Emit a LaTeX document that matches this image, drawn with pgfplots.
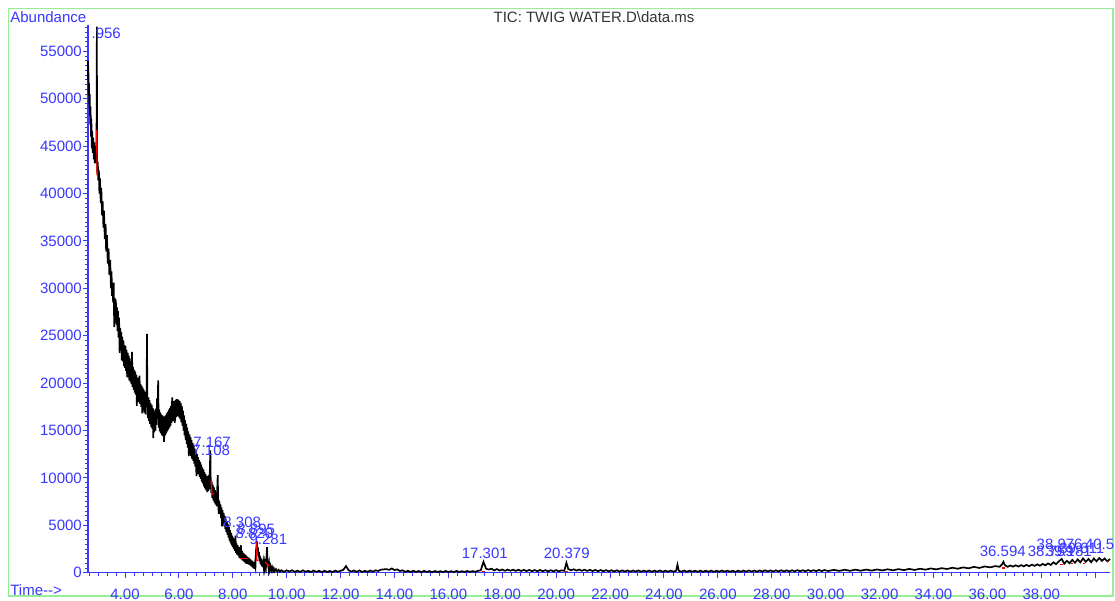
\documentclass[border=0pt]{standalone}
\usepackage{fontspec}
\setmainfont{Liberation Sans}
\usepackage{pgfplots}
\pgfplotsset{compat=1.18}
\definecolor{axblue}{RGB}{55,55,255}
\definecolor{framegreen}{RGB}{150,238,150}
\newcommand\lbl{\fontsize{9}{10}\selectfont}
\begin{document}
\begin{tikzpicture}
\begin{scope}[x=0.6pt,y=-0.6pt]
\draw[framegreen, line width=0.8pt] (8.5,8.5) rectangle (1113,596);
\node[anchor=west, text=axblue, font=\lbl, inner sep=0pt] at (10,17) {Abundance};
\node[anchor=west, text=axblue, font=\lbl, inner sep=0pt] at (10,590) {Time-{}-{}>};
\node[text=black!80, font=\lbl, inner sep=0pt] at (594,17) {TIC: TWIG WATER.D\textbackslash data.ms};
\end{scope}
\begin{axis}[
    at={(52.8pt,-343.62pt)}, anchor=south west,
    width=613.2pt, height=328.6pt, scale only axis,
    xmin=2.627, xmax=40.55, ymin=0, ymax=57780,
    axis lines=left,
    axis line style={axblue, line width=0.7pt, -},
    tick align=outside,
    major tick length=3pt, minor tick length=1.8pt,
    major tick style={axblue, line width=0.6pt},
    minor tick style={axblue, line width=0.5pt},
    xtick={2,4,...,40},
    xticklabels={,4.00,6.00,8.00,10.00,12.00,14.00,16.00,18.00,20.00,22.00,24.00,26.00,28.00,30.00,32.00,34.00,36.00,38.00,},
    minor x tick num=5,
    ytick={0,5000,...,60000},
    minor y tick num=9,
    scaled y ticks=false,
    ticklabel style={text=axblue, font=\lbl},
    xticklabel style={yshift=-3.5pt},
    yticklabel style={inner xsep=0.5pt},
    /pgf/number format/assume math mode=true,
    /pgf/number format/1000 sep={},
    clip=false,
]
% TIC trace
\addplot[black, line width=1pt] coordinates {
(2.627,54000)(2.63,52000)(2.64,53400)(2.65,50300)(2.66,51700)(2.68,49000)(2.69,50500)
(2.71,47300)(2.72,49200)(2.74,46000)(2.75,47900)(2.77,44800)(2.78,46600)(2.80,44300)
(2.82,45900)(2.84,43600)(2.86,45400)(2.88,43200)(2.90,45000)(2.92,43200)(2.94,44400)
(2.95,50000)(2.956,57600)(2.96,46500)(2.97,42200)(2.99,43300)(3.01,41400)(3.03,42500)
(3.05,40000)(3.07,41600)(3.10,39000)(3.12,40600)(3.15,37700)(3.17,39200)(3.20,36400)
(3.22,38200)(3.25,35200)(3.28,36800)(3.30,33900)(3.33,35600)(3.36,32600)(3.39,34200)
(3.42,31400)(3.45,33000)(3.48,30000)(3.50,31800)(3.52,29200)(3.54,30400)(3.56,28500)
(3.58,30600)(3.60,25900)(3.62,29000)(3.64,26800)(3.66,28800)(3.68,26200)(3.70,28000)
(3.72,25500)(3.74,27600)(3.76,24800)(3.78,26900)(3.80,23200)(3.82,25800)(3.84,23500)
(3.86,25400)(3.88,22400)(3.90,24900)(3.92,22300)(3.94,24500)(3.96,21800)(3.98,24000)
(4.00,21600)(4.02,23900)(4.04,21300)(4.06,23500)(4.08,20600)(4.10,23200)(4.12,20700)
(4.14,22900)(4.16,20300)(4.18,22600)(4.20,20100)(4.22,22300)(4.24,19900)(4.26,23300)
(4.28,19600)(4.30,21700)(4.32,19300)(4.34,21400)(4.36,19000)(4.38,21200)(4.40,18800)
(4.42,20900)(4.44,17600)(4.46,20600)(4.48,18200)(4.50,20400)(4.52,18000)(4.54,20800)
(4.56,17800)(4.58,19900)(4.60,17500)(4.62,19700)(4.64,16800)(4.66,19500)(4.68,17100)
(4.70,19300)(4.72,16900)(4.74,19100)(4.76,16700)(4.78,18900)(4.80,17500)(4.815,25200)
(4.83,18200)(4.85,16300)(4.87,18500)(4.89,16000)(4.91,18200)(4.93,15700)(4.95,17900)
(4.97,15400)(4.99,17700)(5.01,15200)(5.03,17400)(5.05,14200)(5.07,17200)(5.09,14800)
(5.11,17000)(5.13,15000)(5.15,17300)(5.17,15600)(5.19,18400)(5.21,16200)(5.23,20300)
(5.25,15300)(5.27,17200)(5.29,14900)(5.31,16900)(5.33,14700)(5.35,16700)(5.37,14500)
(5.39,16600)(5.41,14400)(5.43,16500)(5.45,13800)(5.47,16500)(5.49,14500)(5.51,16600)
(5.53,14700)(5.55,16800)(5.57,14900)(5.59,17000)(5.61,15100)(5.63,17200)(5.65,15300)
(5.67,17400)(5.69,15500)(5.71,17600)(5.73,15800)(5.75,18500)(5.77,16000)(5.79,18000)
(5.81,16200)(5.83,18100)(5.85,15800)(5.87,18200)(5.89,16400)(5.91,18300)(5.93,16500)
(5.95,18300)(5.97,16500)(5.99,18200)(6.01,16400)(6.03,18100)(6.05,16200)(6.07,17900)
(6.09,15900)(6.11,17600)(6.13,15500)(6.15,17100)(6.17,15000)(6.19,16600)(6.21,14500)
(6.23,16100)(6.25,14000)(6.27,15700)(6.29,13600)(6.31,15300)(6.33,13200)(6.35,14900)
(6.37,12300)(6.39,14600)(6.41,12600)(6.43,14300)(6.45,12300)(6.47,14000)(6.49,12000)
(6.51,13700)(6.53,11800)(6.55,13400)(6.57,11500)(6.59,13100)(6.61,11200)(6.63,12800)
(6.65,10200)(6.67,12500)(6.69,10700)(6.71,12200)(6.73,10400)(6.75,11900)(6.77,10100)
(6.79,11700)(6.81,9900)(6.83,11400)(6.85,9600)(6.87,11100)(6.89,9400)(6.91,10900)
(6.93,9100)(6.95,10600)(6.97,8900)(6.99,10400)(7.01,8700)(7.03,10200)(7.05,8500)
(7.07,10000)(7.09,8600)(7.11,10300)(7.13,8800)(7.15,11000)(7.167,12900)(7.18,9800)
(7.20,8400)(7.22,9600)(7.24,7900)(7.26,9300)(7.28,7600)(7.30,9000)(7.32,7400)
(7.34,8700)(7.36,7200)(7.38,8500)(7.40,7000)(7.42,8600)(7.44,10300)(7.46,7300)
(7.48,6200)(7.50,7600)(7.52,6200)(7.54,7200)(7.56,5800)(7.58,6900)(7.60,4900)
(7.62,6600)(7.64,5200)(7.66,6300)(7.68,4900)(7.70,6000)(7.72,4600)(7.74,5700)
(7.76,4300)(7.78,5400)(7.80,4000)(7.82,5100)(7.84,3700)(7.86,4800)(7.88,3400)
(7.90,4500)(7.92,3100)(7.94,4200)(7.96,2900)(7.98,3900)(8.00,2700)(8.02,3700)
(8.04,2500)(8.06,3500)(8.08,2300)(8.10,3900)(8.12,2100)(8.14,3100)(8.16,1900)
(8.18,2900)(8.20,1800)(8.22,2700)(8.24,1600)(8.26,2600)(8.28,1500)(8.30,2900)
(8.32,1400)(8.34,2300)(8.36,1300)(8.38,2100)(8.40,1200)(8.42,2000)(8.44,1100)
(8.46,1900)(8.48,1000)(8.50,1800)(8.52,950)(8.54,1700)(8.56,900)(8.58,1600)
(8.60,850)(8.62,1500)(8.64,800)(8.66,1400)(8.68,700)(8.70,1300)(8.72,600)
(8.74,1200)(8.76,500)(8.78,1100)(8.80,400)(8.82,900)(8.84,600)(8.86,2300)
(8.88,2800)(8.895,3300)(8.91,2300)(8.93,2700)(8.95,1700)(8.97,2200)(8.99,1200)
(9.01,1800)(9.03,900)(9.05,1500)(9.07,700)(9.09,1300)(9.11,600)(9.13,1100)
(9.15,500)(9.17,1000)(9.19,450)(9.21,900)(9.23,600)(9.25,1600)(9.27,2700)
(9.29,1100)(9.31,800)(9.33,400)(9.35,900)(9.37,300)(9.40,700)(9.43,250)
(9.46,550)(9.49,200)(9.52,450)(9.55,150)(9.60,380)(9.65,120)(9.70,300)
(9.75,100)(9.80,260)(9.90,90)(10.0,250)
(10.1,120)(10.2,260)(10.3,90)(10.4,220)(10.5,80)(10.6,250)(10.7,100)(10.8,200)
(10.9,70)(11.0,230)(11.1,90)(11.2,200)(11.3,60)(11.4,210)(11.5,80)(11.6,180)
(11.7,70)(11.8,220)(11.9,100)(12.0,200)(12.1,300)(12.2,700)(12.3,250)(12.4,120)
(12.5,230)(12.6,90)(12.7,240)(12.8,80)(12.9,200)(13.0,90)(13.1,230)(13.2,110)
(13.3,250)(13.4,180)(13.5,320)(13.7,380)(13.8,300)(13.9,450)(14.0,280)(14.1,350)
(14.2,180)(14.3,250)(14.4,90)(14.5,200)(14.6,70)(14.7,210)(14.8,80)(14.9,180)
(15.0,60)(15.1,200)(15.2,70)(15.3,170)(15.4,50)(15.5,180)(15.6,60)(15.7,160)
(15.8,60)(15.9,180)(16.0,70)(16.1,160)(16.2,60)(16.3,190)(16.4,70)(16.5,160)
(16.6,80)(16.7,180)(16.8,90)(16.9,170)(17.0,100)(17.1,200)(17.2,250)(17.301,1150)
(17.4,420)(17.5,330)(17.6,420)(17.7,240)(17.8,380)(17.9,230)(18.0,340)(18.1,200)
(18.2,330)(18.3,210)(18.4,320)(18.5,190)(18.6,310)(18.7,180)(18.8,300)(18.9,170)
(19.0,290)(19.1,160)(19.2,280)(19.3,150)(19.4,280)(19.5,160)(19.6,270)(19.7,140)
(19.8,260)(19.9,150)(20.0,270)(20.1,140)(20.2,250)(20.3,200)(20.379,1050)(20.45,380)
(20.55,260)(20.65,360)(20.75,220)(20.85,330)(20.95,200)(21.05,320)(21.15,190)(21.25,300)
(21.35,170)(21.45,290)(21.55,160)(21.65,280)(21.75,150)(21.85,270)(21.95,140)(22.05,260)
(22.15,130)(22.25,250)(22.35,120)(22.45,240)(22.55,130)(22.65,240)(22.75,110)(22.85,230)
(22.95,120)(23.05,240)(23.15,110)(23.25,220)(23.35,120)(23.45,230)(23.55,100)(23.65,220)
(23.75,110)(23.85,230)(23.95,100)(24.05,210)(24.15,110)(24.25,220)(24.35,120)(24.45,200)
(24.5,850)(24.55,200)(24.65,110)(24.75,230)(24.85,100)(24.95,220)(25.05,110)(25.15,210)
(25.25,100)(25.35,220)(25.45,90)(25.55,210)(25.65,100)(25.75,220)(25.85,90)(25.95,210)
(26.05,100)(26.15,230)(26.25,110)(26.35,220)(26.45,100)(26.55,210)(26.65,90)(26.75,220)
(26.85,100)(26.95,230)(27.05,110)(27.15,240)(27.25,120)(27.35,230)(27.45,110)(27.55,240)
(27.65,120)(27.75,250)(27.85,130)(27.95,240)(28.05,120)(28.15,250)(28.25,130)(28.35,260)
(28.45,140)(28.55,250)(28.65,130)(28.75,260)(28.85,140)(28.95,270)(29.05,150)(29.15,260)
(29.25,150)(29.35,280)(29.45,160)(29.55,270)(29.65,160)(29.75,290)(29.85,170)(29.95,280)
(30.1,180)(30.3,300)(30.5,190)(30.7,310)(30.9,200)(31.1,320)(31.3,210)(31.5,330)
(31.7,220)(31.9,340)(32.1,240)(32.3,360)(32.5,250)(32.7,380)(32.9,270)(33.1,400)
(33.3,290)(33.5,420)(33.7,320)(33.9,450)(34.1,350)(34.3,480)(34.5,390)(34.7,520)
(34.9,420)(35.1,560)(35.3,460)(35.5,620)(35.7,500)(35.9,660)(36.1,560)(36.3,700)
(36.45,620)(36.55,900)(36.594,1150)(36.65,800)(36.75,620)(36.85,760)(36.95,640)(37.05,780)
(37.15,650)(37.25,800)(37.35,670)(37.45,830)(37.55,690)(37.65,850)(37.75,720)(37.85,880)
(37.95,740)(38.05,920)(38.15,780)(38.25,980)(38.35,820)(38.45,1100)(38.55,900)(38.65,1200)
(38.76,1450)(38.85,950)(38.95,1250)(39.05,1000)(39.15,1350)(39.25,1050)(39.35,1400)(39.45,1100)
(39.55,1500)(39.65,1150)(39.75,1450)(39.85,1100)(39.95,1500)(40.05,1200)(40.15,1550)(40.25,1250)
(40.35,1500)(40.45,1200)(40.55,1450)
};
% integration baselines
\addplot[red, line width=0.8pt] coordinates {(2.95,46700)(2.965,42000)(2.99,42000)};
\addplot[red, line width=0.8pt] coordinates {(7.20,9800)(7.22,8300)(7.32,8300)};
\addplot[red, line width=0.8pt] coordinates {(8.27,1500)(8.57,1500)};
\addplot[red, line width=0.8pt] coordinates {(8.88,3400)(8.89,1300)(8.95,1300)};
\addplot[red, line width=0.8pt] coordinates {(9.20,1100)(9.35,700)};
\addplot[red, line width=0.8pt] coordinates {(17.24,120)(17.36,120)};
\addplot[red, line width=0.8pt] coordinates {(20.32,120)(20.44,120)};
\addplot[red, line width=0.8pt] coordinates {(36.55,500)(36.64,500)};
\addplot[red, line width=0.8pt] coordinates {(38.70,900)(38.80,900)};
\addplot[red, line width=0.8pt] coordinates {(39.10,950)(39.18,950)};
\addplot[red, line width=0.8pt] coordinates {(39.55,1000)(39.63,1000)};
\addplot[red, line width=0.8pt] coordinates {(40.45,1150)(40.53,1150)};
% peak labels
\begin{scope}[every node/.style={text=axblue, font=\lbl, inner sep=0pt}]
\node[anchor=west] at (axis cs:2.75,56940) {.956};
\node at (axis cs:7.23,13790) {7.167};
\node at (axis cs:7.20,12950) {7.108};
\node at (axis cs:8.35,5350) {8.308};
\node at (axis cs:8.87,4600) {8.895};
\node at (axis cs:8.80,4190) {8.820};
\node at (axis cs:9.32,3520) {9.281};
\node at (axis cs:17.35,2080) {17.301};
\node at (axis cs:20.39,2080) {20.379};
\node at (axis cs:36.57,2290) {36.594};
\node at (axis cs:38.35,2290) {38.759};
\node at (axis cs:38.68,3030) {38.976};
\node at (axis cs:39.02,2290) {39.181};
\node at (axis cs:39.50,2610) {39.611};
\node[anchor=west] at (axis cs:39.61,3030) {40.514};
\end{scope}
\end{axis}
\pgfresetboundingbox
\path[use as bounding box] (0,0) rectangle (669pt,-360.6pt);
\end{tikzpicture}
\end{document}
